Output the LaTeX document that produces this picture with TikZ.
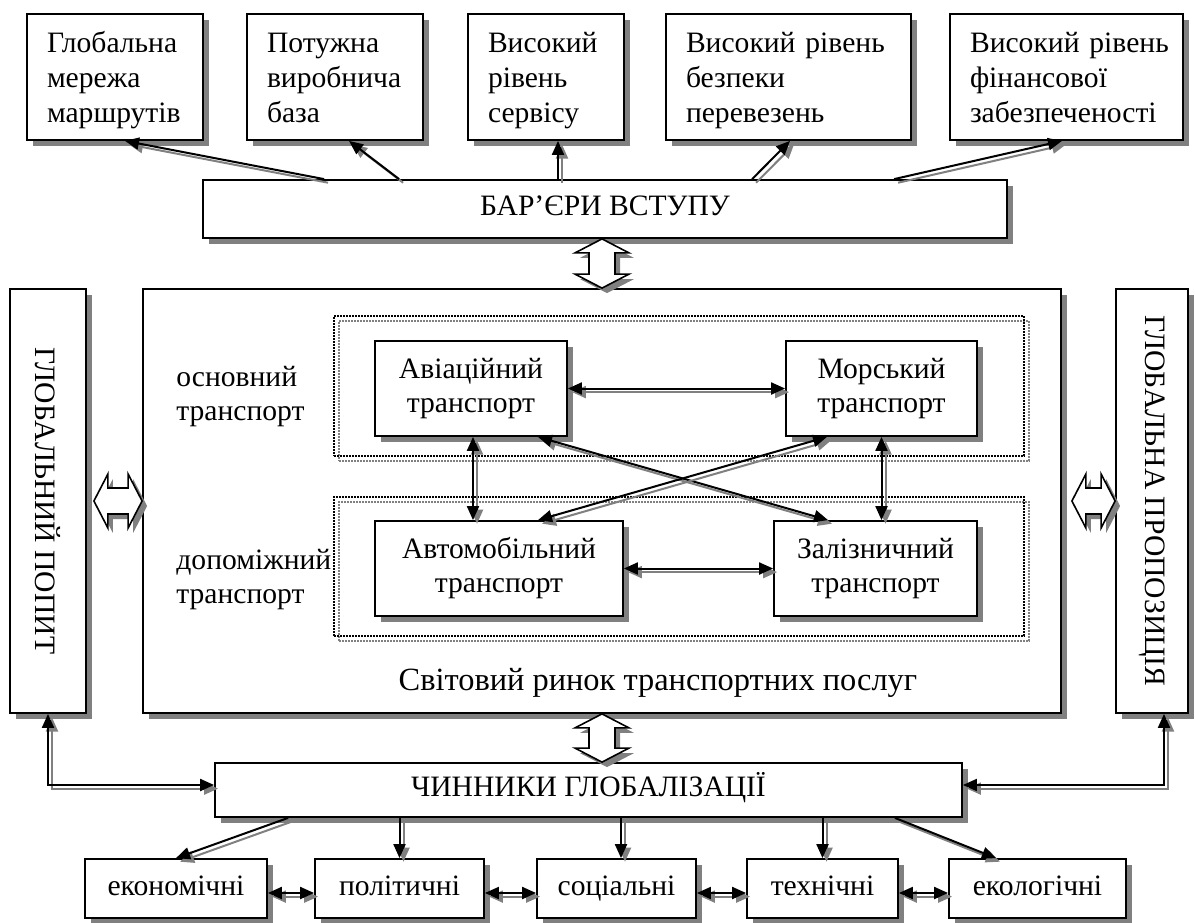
\documentclass[tikz,border=0pt]{standalone}
\usepackage{fontspec}
\setmainfont{Liberation Serif}
\usetikzlibrary{arrows.meta,calc}
\definecolor{sgray}{RGB}{128,128,128}

% fixed head room above the first line of the top boxes
\newcommand\hdtop{\rule{0pt}{16pt}}
% hollow double arrow, vertical: #1 top tip, #2 bottom tip
\newcommand\fatvert[2]{%
  \draw[fat] (#1) -- ++(27,14) -- ++(-14,0) -- ($(#2)+(13,-14)$) -- ++(14,0)
    -- (#2) -- ++(-27,-14) -- ++(14,0) -- ($(#1)+(-13,14)$) -- ++(-14,0) -- cycle;}
% hollow double arrow, horizontal: #1 left tip, #2 right tip
\newcommand\fathoriz[2]{%
  \draw[fat] (#1) -- ++(14,-27) -- ++(0,14) -- ($(#2)+(-14,-13)$) -- ++(0,-14)
    -- (#2) -- ++(-14,27) -- ++(0,-14) -- ($(#1)+(14,13)$) -- ++(0,14) -- cycle;}

\begin{document}
\begin{tikzpicture}[x=0.5pt,y=-0.5pt,
  every node/.style={font=\fontsize{14.8}{17}\selectfont},
  >={Triangle[length=7pt,width=6pt]},
  box/.style={draw, line width=0.9pt, fill=white, inner sep=0pt, align=center,
    preaction={fill=sgray, draw=none, transform canvas={shift={(3.2pt,-3.2pt)}}}},
  topbox/.style={box, align=left, text width=#1, inner xsep=10pt, minimum height=63pt,
    font=\fontsize{14.8}{17.4}\selectfont},
  grp/.style={draw, line width=1.2pt, dash pattern=on 0.8pt off 0.7pt, inner sep=0pt,
    preaction={draw=sgray, line width=1.2pt, dash pattern=on 0.8pt off 0.7pt,
      transform canvas={shift={(2.5pt,-2.5pt)}}}},
  conn/.style={line width=1pt, #1,
    preaction={draw=sgray, line width=1pt, #1, transform canvas={shift={(2pt,-1.8pt)}}}},
  fat/.style={line width=0.8pt, fill=white,
    preaction={fill=sgray, draw=none, transform canvas={shift={(2.5pt,-2.5pt)}}}},
  plain/.style={inner sep=0pt, align=left}]

\useasboundingbox (0,0) rectangle (1195,922);

% top row: what keeps newcomers out
\node[topbox=68pt]    (b1) at (115,77)    {\hdtop Глобальна\\мережа\\маршрутів\strut};
\node[topbox=68pt]    (b2) at (335,77)    {\hdtop Потужна\\виробнича\\база\strut};
\node[topbox=58pt]    (b3) at (546,77)    {\hdtop Високий\\рівень\\сервісу\strut};
\node[topbox=102.5pt] (b4) at (788.5,77)  {\hdtop Високий~рівень\\безпеки\\перевезень\strut};
\node[topbox=96.5pt]  (b5) at (1066.5,77) {\hdtop Високий~рівень\\фінансової\\забезпеченості\strut};

\node[box, minimum width=402pt, minimum height=29pt] (bar) at (605,209) {БАР’ЄРИ ВСТУПУ\strut};

% side columns and the market frame
\node[box, minimum width=38pt, minimum height=212pt] (gd) at (48,501) {};
\node[rotate=-90] (gdtext) at (gd.center) {ГЛОБАЛЬНИЙ ПОПИТ};
\node[box, minimum width=36pt, minimum height=212pt] (gs) at (1152,501) {};
\node[rotate=-90] (gstext) at (gs.center) {ГЛОБАЛЬНА ПРОПОЗИЦІЯ};
\node[box, minimum width=459pt, minimum height=212pt] (mkt) at (602,501) {};
\node[font=\fontsize{16.2}{19}\selectfont] (mkttext) at (658,683) {Світовий ринок транспортних послуг};

% transport groups
\node[grp, minimum width=345pt, minimum height=70pt]   (grpA) at (679,386) {};
\node[grp, minimum width=345pt, minimum height=69.5pt] (grpB) at (679,566.5) {};
\node[plain, anchor=west] (lmain) at (176,397) {основний\\транспорт};
\node[plain, anchor=west] (laux)  at (176,580) {допоміжний\\транспорт};

\node[box, minimum width=96pt,    minimum height=47.5pt] (av)   at (471,388.5)   {\strut Авіаційний\\транспорт\strut};
\node[box, minimum width=95.5pt,  minimum height=47.5pt] (mar)  at (881.5,388.5) {\strut Морський\\транспорт\strut};
\node[box, minimum width=124pt,   minimum height=47.5pt] (auto) at (499,568.5)   {\strut Автомобільний\\транспорт\strut};
\node[box, minimum width=101.5pt, minimum height=47.5pt] (rail) at (875.5,568.5) {\strut Залізничний\\транспорт\strut};

% globalisation factors
\node[box, minimum width=373.5pt, minimum height=27pt] (chyn) at (588.5,790) {ЧИННИКИ ГЛОБАЛІЗАЦІЇ\strut};
\node[box, minimum width=91pt,   minimum height=29.5pt] (ek)   at (176,888.5)    {економічні\strut};
\node[box, minimum width=84.5pt, minimum height=29.5pt] (pol)  at (399.5,888.5)  {політичні\strut};
\node[box, minimum width=79.5pt, minimum height=29.5pt] (soc)  at (616.5,888.5)  {соціальні\strut};
\node[box, minimum width=75.5pt, minimum height=29.5pt] (tech) at (822.5,888.5)  {технічні\strut};
\node[box, minimum width=88.5pt, minimum height=29.5pt] (eco)  at (1037.5,888.5) {екологічні\strut};

% barriers to the top boxes
\draw[conn=->] ($(bar.north west)+(122,0)$) -- ($(b1.south)+(10,0)$);
\draw[conn=->] ($(bar.north west)+(197,0)$) -- ($(b2.south)+(14,0)$);
\coordinate (t3) at ($(b3.south)+(12,0)$);
\draw[conn=->] (t3 |- bar.north) -- (t3);
\draw[conn=->] ($(bar.north west)+(550,0)$) -- ($(b4.south)+(1.5,0)$);
\draw[conn=->] ($(bar.north west)+(692,0)$) -- ($(b5.south)+(-4.5,0)$);

% links between transport modes
\draw[conn=<->] (av.east) -- (av.east -| mar.west);
\draw[conn=<->] (auto.east) -- (auto.east -| rail.west);
\coordinate (avs) at ($(av.south)+(2,0)$);
\draw[conn=<->] (avs) -- (avs |- auto.north);
\draw[conn=<->] (mar.south) -- (mar.south |- rail.north);
\draw[conn=<->] ($(av.south)+(67,0)$) -- ($(rail.north)+(-47.5,0)$);
\draw[conn=<->] ($(mar.south)+(-54.5,0)$) -- ($(auto.north)+(39,0)$);

% factors
\draw[conn=->] ($(chyn.south west)+(74,0)$) -- (ek.north);
\draw[conn=->] (pol.north |- chyn.south) -- (pol.north);
\coordinate (s3) at ($(soc.north)+(4.5,0)$);
\draw[conn=->] (s3 |- chyn.south) -- (s3);
\draw[conn=->] (tech.north |- chyn.south) -- (tech.north);
\draw[conn=->] ($(chyn.south east)+(-68,0)$) -- ($(eco.north)+(-41.5,0)$);
\draw[conn=<->] ($(ek.east)+(0,4.5)$) -- ($(pol.west)+(0,4.5)$);
\draw[conn=<->] ($(pol.east)+(0,4.5)$) -- ($(soc.west)+(0,4.5)$);
\draw[conn=<->] ($(soc.east)+(0,4.5)$) -- ($(tech.west)+(0,4.5)$);
\draw[conn=<->] ($(tech.east)+(0,4.5)$) -- ($(eco.west)+(0,4.5)$);

% demand and supply linked to the factors
\draw[conn=<->] (gd.south) |- ($(chyn.west)+(0,-5)$);
\draw[conn=<->] ($(chyn.east)+(0,-5)$) -| ($(gs.south)+(12,0)$);

% hollow double arrows around the market
\coordinate (fa1) at (mkt.north |- bar.south);
\coordinate (fa2) at (mkt.north);
\fatvert{fa1}{fa2}
\coordinate (fb1) at (mkt.south);
\coordinate (fb2) at (mkt.south |- chyn.north);
\fatvert{fb1}{fb2}
\coordinate (fc1) at ($(gd.east |- mkt.west)+(7,0)$);
\coordinate (fc2) at (mkt.west);
\fathoriz{fc1}{fc2}
\coordinate (fd1) at ($(mkt.east)+(10,0)$);
\coordinate (fd2) at (gs.west |- mkt.east);
\fathoriz{fd1}{fd2}
\end{tikzpicture}
\end{document}
